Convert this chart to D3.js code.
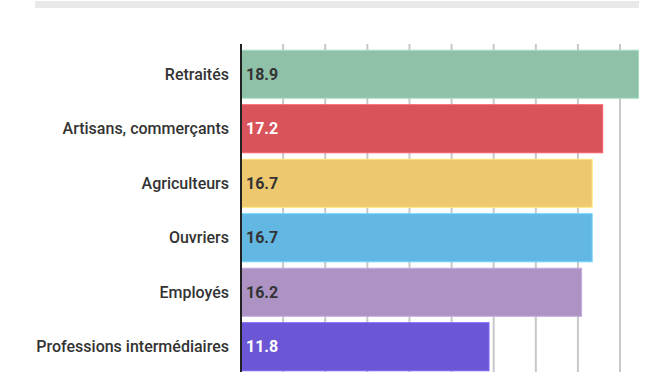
<!DOCTYPE html>
<html>
<head>
<meta charset="utf-8">
<script src="https://cdn.jsdelivr.net/npm/d3@7"></script>
<style>
	html, body { margin: 0; padding: 0; background: #fff; overflow: hidden; }
	#chart { width: 672px; height: 372px; }
	text { font-family: Roboto, "Noto Sans", sans-serif; }
</style>
</head>
<body>
<div id="chart"></div>
<script>
const categories = ['Retraités', 'Artisans, commerçants', 'Agriculteurs', 'Ouvriers', 'Employés', 'Professions intermédiaires'];
const values = [18.9, 17.2, 16.7, 16.7, 16.2, 11.8];
const colors = ['#8fc1a9', '#d9535b', '#edc86f', '#62b7e3', '#ac93c4', '#6b56d6'];
const labelColors = ['#333', '#fff', '#333', '#333', '#333', '#fff'];
const ticks = [0, 2, 4, 6, 8, 10, 12, 14, 16, 18];

const margin = {l: 241, r: 30, t: 44, b: 0};
const W = 672, H = 400;

const svg = d3.select('#chart')
	.append('svg')
	.attr('width', W)
	.attr('height', H);

// grey header strip
svg.append('rect')
	.attr('x', 35).attr('y', 1)
	.attr('width', 604).attr('height', 7)
	.style('fill', '#e9e9e9');

const x = d3.scaleLinear().domain([0, 18.9]).range([margin.l, 639]);
const y = d3.scaleBand().domain(categories).range([50 - 3, 50 - 3 + 54.5 * 6]).paddingInner(0.1).paddingOuter(0.05);

// gridlines
svg.append('g')
	.selectAll('line')
	.data(ticks.slice(1))
	.enter()
	.append('line')
	.attr('x1', d => x(d)).attr('x2', d => x(d))
	.attr('y1', margin.t).attr('y2', H)
	.style('stroke', '#c8c8c8')
	.style('stroke-width', 2);

const bars = svg.selectAll('.bar')
	.data(categories)
	.enter()
	.append('g')
	.attr('class', 'bar')
	.attr('transform', d => `translate(0,${y(d)})`);

bars.append('rect')
	.attr('x', x(0))
	.attr('y', 0.5)
	.attr('width', (d, i) => x(values[i]) - x(0) - 0.5)
	.attr('height', y.bandwidth() - 1)
	.style('fill', (d, i) => colors[i])
	.style('stroke', (d, i) => d3.color(colors[i]).brighter(0.4))
	.style('stroke-width', 1);

bars.append('text')
	.attr('x', 229)
	.attr('y', y.bandwidth() / 2)
	.attr('dy', '0.35em')
	.attr('text-anchor', 'end')
	.style('font-size', '16px')
	.style('font-weight', 500)
	.style('fill', '#333')
	.text(d => d);

bars.append('text')
	.attr('x', 246)
	.attr('y', y.bandwidth() / 2)
	.attr('dy', '0.35em')
	.style('font-size', '16px')
	.style('font-weight', 700)
	.style('fill', (d, i) => labelColors[i])
	.text((d, i) => values[i]);

// zero axis
svg.append('line')
	.attr('x1', x(0)).attr('x2', x(0))
	.attr('y1', margin.t).attr('y2', H)
	.style('stroke', '#222')
	.style('stroke-width', 2);
</script>
</body>
</html>
